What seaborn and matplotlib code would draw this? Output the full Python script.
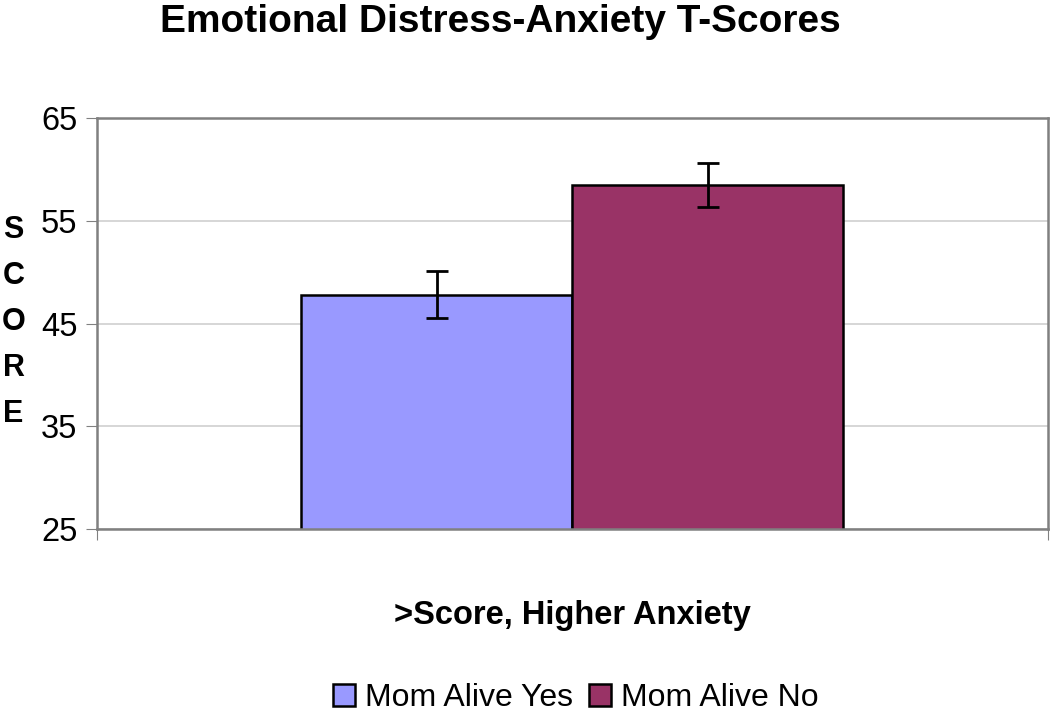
import numpy as np
import pandas as pd
import seaborn as sns
import matplotlib.pyplot as plt

# values
groups = ["Mom Alive Yes", "Mom Alive No"]
means = [47.8, 58.5]
errs = [2.3, 2.1]
colors = ["#9999FF", "#993366"]

df = pd.DataFrame({"x": ["a", "a"], "group": groups, "score": means})

sns.set_style("white")
plt.rcParams['font.family'] = ['Liberation Sans', 'DejaVu Sans']
plt.rcParams['text.color'] = 'black'
plt.rcParams['axes.labelcolor'] = 'black'
plt.rcParams['ytick.color'] = 'black'

fig = plt.figure(figsize=(10.5, 7.16), dpi=100)
ax = fig.add_axes([0.0924, 0.261, 0.9056, 0.574])

sns.barplot(data=df, x="x", y="score", hue="group", hue_order=groups,
            palette=colors, saturation=1, width=0.57, errorbar=None,
            edgecolor="black", linewidth=1.8, legend=False, ax=ax)

# error bars at the bar centres
for patch, e in zip(ax.patches, errs):
    cx = patch.get_x() + patch.get_width() / 2
    ax.errorbar(cx, patch.get_height(), yerr=e, color="black", capsize=8,
                capthick=2, elinewidth=2)

ax.set_ylim(25, 65)
ax.set_xlim(-0.5, 0.5)
ax.set_yticks([25, 35, 45, 55, 65])
ax.set_xticks([-0.5, 0.5])
ax.tick_params(axis="y", labelsize=23.5, length=8, color="#808080", direction="out",
               left=True, pad=6)
ax.tick_params(axis="x", bottom=True, labelbottom=False, length=8, color="#808080",
               direction="out")
ax.yaxis.grid(True, color="#d0d0d0", linewidth=1.2)
ax.set_axisbelow(True)
for s in ax.spines.values():
    s.set_color("#808080")
    s.set_linewidth(1.8)

ax.set_xlabel(">Score, Higher Anxiety", fontsize=23.5, fontweight="bold", labelpad=43)
ax.set_ylabel("")
fig.text(0.013, 0.55, "S\nC\nO\nR\nE", fontsize=22, fontweight="bold",
         ha="center", va="center", linespacing=1.7)

fig.text(0.477, 0.995, "Emotional Distress-Anxiety T-Scores", fontsize=28,
         fontweight="bold", ha="center", va="top")

handles = [plt.Rectangle((0, 0), 1, 1, facecolor=c, edgecolor="black", linewidth=1.8)
           for c in colors]
fig.legend(handles, groups, loc="lower center", bbox_to_anchor=(0.548, -0.036),
           ncol=2, frameon=False, fontsize=23, handlelength=0.7, handleheight=0.7,
           handletextpad=0.3, columnspacing=0.5)

fig.savefig("out.png", dpi=100)
